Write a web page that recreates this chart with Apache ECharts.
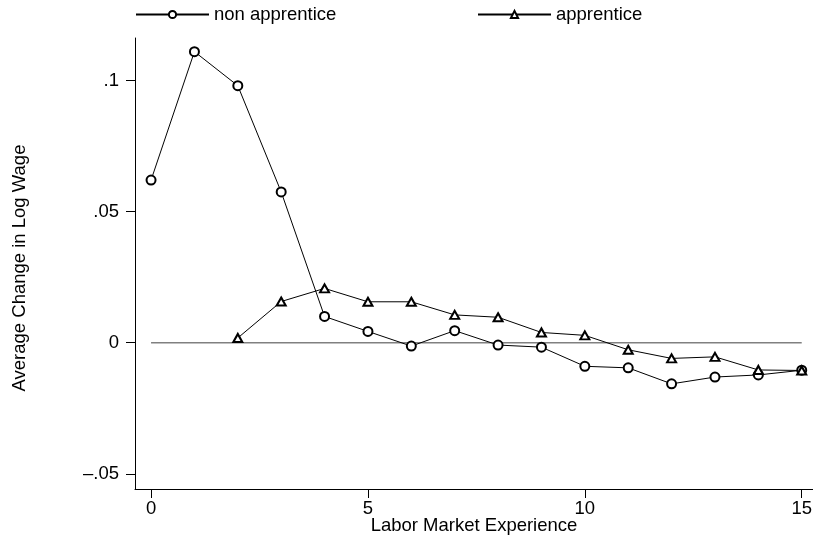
<!DOCTYPE html>
<html>
<head>
<meta charset="utf-8">
<title>Average Change in Log Wage by Labor Market Experience</title>
<script src="https://cdn.jsdelivr.net/npm/echarts@6/dist/echarts.min.js"></script>
<style>
  html, body { margin: 0; padding: 0; background: #fff; overflow: hidden; }
  #chart { width: 813px; height: 538px; }
</style>
</head>
<body>
<div id="chart"></div>
<script>
// Years of labor market experience for each group
const expNonApprentice = [0, 1, 2, 3, 4, 5, 6, 7, 8, 9, 10, 11, 12, 13, 14, 15];
const expApprentice = [2, 3, 4, 5, 6, 7, 8, 9, 10, 11, 12, 13, 14, 15];

// Average change in log wage
const nonApprentice = [0.062, 0.111, 0.098, 0.0575, 0.010, 0.0043, -0.0013, 0.0046,
  -0.0009, -0.0017, -0.0090, -0.0096, -0.0157, -0.0131, -0.0123, -0.0105];
const apprentice = [0.0018, 0.0157, 0.0207, 0.0156, 0.0156, 0.0106, 0.0097, 0.0039,
  0.0028, -0.0027, -0.0060, -0.0054, -0.0104, -0.0106];

// Reference line at zero across the experience range
const zeroLineX = [0, 15];
const zeroLineY = [0, 0];

// Axis ticks and their labels
const xTickValues = [0, 5, 10, 15];
const yTickValues = [-0.05, 0, 0.05, 0.1];
const yTickLabels = ['\u2013.05', '0', '.05', '.1'];

const pairs = (xs, ys) => xs.map((x, i) => [x, ys[i]]);

const FONT = '"Liberation Sans", Arial, Helvetica, sans-serif';
const textStyle = { color: '#000', fontFamily: FONT, fontSize: 18.5 };

const chart = echarts.init(document.getElementById('chart'), null, { renderer: 'canvas' });

chart.setOption({
  animation: false,
  backgroundColor: '#fff',
  textStyle: textStyle,
  grid: { left: 135, right: 0, top: 38, bottom: 49, containLabel: false, outerBoundsMode: 'none' },
  legend: [
    {
      data: ['non apprentice'],
      left: 135, top: 5, padding: 0,
      itemWidth: 73, itemHeight: 9, itemGap: 0,
      textStyle: textStyle
    },
    {
      data: ['apprentice'],
      left: 477, top: 5, padding: 0,
      itemWidth: 73, itemHeight: 9, itemGap: 0,
      textStyle: textStyle
    }
  ],
  xAxis: {
    type: 'value',
    min: -0.37,
    max: 15.26,
    name: 'Labor Market Experience',
    nameLocation: 'middle',
    nameGap: 27,
    nameMoveOverlap: false,
    nameTextStyle: textStyle,
    axisLine: { show: true, onZero: false, lineStyle: { color: '#000', width: 1 } },
    axisTick: { show: true, length: 9, customValues: xTickValues, lineStyle: { color: '#000' } },
    axisLabel: { show: true, margin: 10, customValues: xTickValues, ...textStyle },
    splitLine: { show: false }
  },
  yAxis: {
    type: 'value',
    min: -0.0558,
    max: 0.1162,
    name: 'Average Change in Log Wage',
    nameLocation: 'middle',
    nameGap: 106,
    nameMoveOverlap: false,
    nameTextStyle: { ...textStyle, padding: [0, 9, 0, 0] },
    axisLine: { show: true, onZero: false, lineStyle: { color: '#000', width: 1 } },
    axisTick: { show: true, length: 9, customValues: yTickValues, lineStyle: { color: '#000' } },
    axisLabel: {
      show: true, margin: 16, customValues: yTickValues, ...textStyle,
      formatter: (v) => {
        const i = yTickValues.findIndex((t) => Math.abs(t - v) < 1e-9);
        return i >= 0 ? yTickLabels[i] : '';
      }
    },
    splitLine: { show: false }
  },
  series: [
    {
      name: 'zero',
      type: 'line',
      data: pairs(zeroLineX, zeroLineY),
      symbol: 'none',
      silent: true,
      z: 1,
      lineStyle: { color: '#808080', width: 1.5 }
    },
    {
      name: 'non apprentice',
      type: 'line',
      data: pairs(expNonApprentice, nonApprentice),
      symbol: 'emptyCircle',
      symbolSize: 9,
      z: 3,
      lineStyle: { color: '#000', width: 1 },
      itemStyle: { color: '#000', borderColor: '#000', borderWidth: 1 }
    },
    {
      name: 'apprentice',
      type: 'line',
      data: pairs(expApprentice, apprentice),
      symbol: 'emptyTriangle',
      symbolSize: [9, 8],
      z: 3,
      lineStyle: { color: '#000', width: 1 },
      itemStyle: { color: '#000', borderColor: '#000', borderWidth: 1 }
    }
  ]
});
</script>
</body>
</html>
